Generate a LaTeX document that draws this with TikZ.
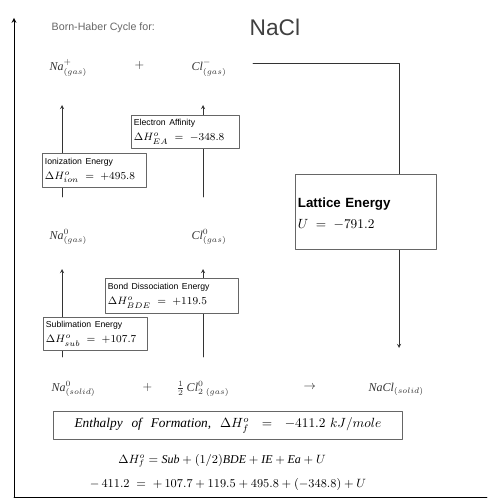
\documentclass[tikz,border=0pt]{standalone}
\usepackage{fontspec}
\setmainfont{Liberation Serif}
\setsansfont{Liberation Sans}
\usepackage{amsmath}

\begin{document}
\begin{tikzpicture}[
  x=0.75pt, y=-0.75pt, line cap=round, line join=round, >=stealth,
  species/.style={anchor=west, font=\small, text=black!80, inner sep=1pt},
  ebox/.style={draw=black!60, fill=white, anchor=north west, align=left,
               inner sep=2pt, font=\footnotesize},
  link/.style={black!80}
]
  \useasboundingbox (0,0) rectangle (487,502);

  % ── Energy axis ─────────────────────────────────────────────
  \coordinate (origin) at (14,497);
  \coordinate (ytop)   at (14,18);
  \coordinate (xend)   at (487,497);
  \draw[->, semithick] (origin) -- (ytop);
  \draw[semithick] (origin) -- (xend);

  % ── Title ───────────────────────────────────────────────────
  \node[anchor=west, font=\sffamily\fontsize{8}{9}\selectfont, text=black!60]
      (title) at (47,28) {Born-Haber Cycle for:};
  \node[anchor=west, font=\sffamily\fontsize{17}{18}\selectfont, text=black!75]
      (cmpd) at (245,27) {NaCl};

  % ── Levels ──────────────────────────────────────────────────
  % gas ions
  \node[species] (naion) at (48,68)  {$\mathit{Na}^{+}_{(gas)}$};
  \node[species] (plus1) at (133,66) {$+$};
  \node[species] (clion) at (190,68) {$\mathit{Cl}^{-}_{(gas)}$};
  % gas atoms
  \node[species] (naatom) at (48,237)  {$\mathit{Na}^{0}_{(gas)}$};
  \node[species] (clatom) at (190,237) {$\mathit{Cl}^{0}_{(gas)}$};
  % elements
  \node[species] (nasolid) at (50,389)  {$\mathit{Na}^{0}_{(solid)}$};
  \node[species] (plus2)   at (141,387) {$+$};
  \node[species] (cl2)     at (175,389) {$\frac12\,\mathit{Cl}^{0}_{2\;(gas)}$};
  \node[species] (arrow)   at (302,387) {$\rightarrow$};
  \node[species] (nacl)    at (367,389) {$\mathit{NaCl}_{(solid)}$};

  % ── Steps ───────────────────────────────────────────────────
  \coordinate (ie-bot)  at (62,197);  \coordinate (ie-top)  at (62,105);
  \coordinate (ea-bot)  at (203,197); \coordinate (ea-top)  at (203,105);
  \coordinate (sub-bot) at (62,357);  \coordinate (sub-top) at (62,269);
  \coordinate (bde-bot) at (203,357); \coordinate (bde-top) at (203,269);
  \draw[link, ->] (ie-bot) -- (ie-top);
  \draw[link, ->] (ea-bot) -- (ea-top);
  \draw[link, ->] (sub-bot) -- (sub-top);
  \draw[link, ->] (bde-bot) -- (bde-top);

  % lattice energy: ions -> solid
  \coordinate (le-start)  at (253,63);
  \coordinate (le-corner) at (399,63);
  \coordinate (le-end)    at (399,348);
  \draw[link, ->] (le-start) -- (le-corner) -- (le-end);

  \node[ebox, text width=74pt, minimum height=25.5pt] (ie) at (42,153)
      {{\sffamily\fontsize{6.5}{7}\selectfont Ionization Energy}\\[1.5pt]
       $\Delta H^{o}_{ion} \;=\; +495.8$};
  \node[ebox, text width=77pt, minimum height=24.75pt] (ea) at (131,115)
      {{\sffamily\fontsize{6.5}{7}\selectfont Electron Affinity}\\[1.5pt]
       $\Delta H^{o}_{EA} \;=\; -348.8$};
  \node[ebox, text width=96pt, minimum height=26.25pt] (bde) at (105,278)
      {{\sffamily\fontsize{6.5}{7}\selectfont Bond Dissociation Energy}\\[1.5pt]
       $\Delta H^{o}_{BDE} \;=\; +119.5$};
  \node[ebox, text width=74pt, minimum height=24.75pt] (sub) at (43,317)
      {{\sffamily\fontsize{6.5}{7}\selectfont Sublimation Energy}\\[1.5pt]
       $\Delta H^{o}_{sub} \;=\; +107.7$};
  \node[ebox, text width=102pt, minimum height=56pt, font=\normalsize] (lattice) at (295,174)
      {\\[-2pt]{\sffamily\bfseries Lattice Energy}\\[4pt]
       $U \;=\; -791.2$};

  % ── Formation ───────────────────────────────────────────────
  \node[ebox, text width=258pt, minimum height=21pt, align=center,
        font=\normalsize\itshape] (form) at (53,411)
      {Enthalpy \ of \ Formation, \ $\Delta H^{o}_{f} \;=\; -411.2\ kJ/mole$};
  \node[font=\small] (eq1) at (222,461)
      {$\Delta H^{o}_{f} = \mathit{Sub} + (1/2)\mathit{BDE} + \mathit{IE} + \mathit{Ea} + U$};
  \node[font=\small] (eq2) at (228,484)
      {$-\,411.2 \;=\; +\,107.7 + 119.5 + 495.8 + (-348.8) + U$};
\end{tikzpicture}
\end{document}
